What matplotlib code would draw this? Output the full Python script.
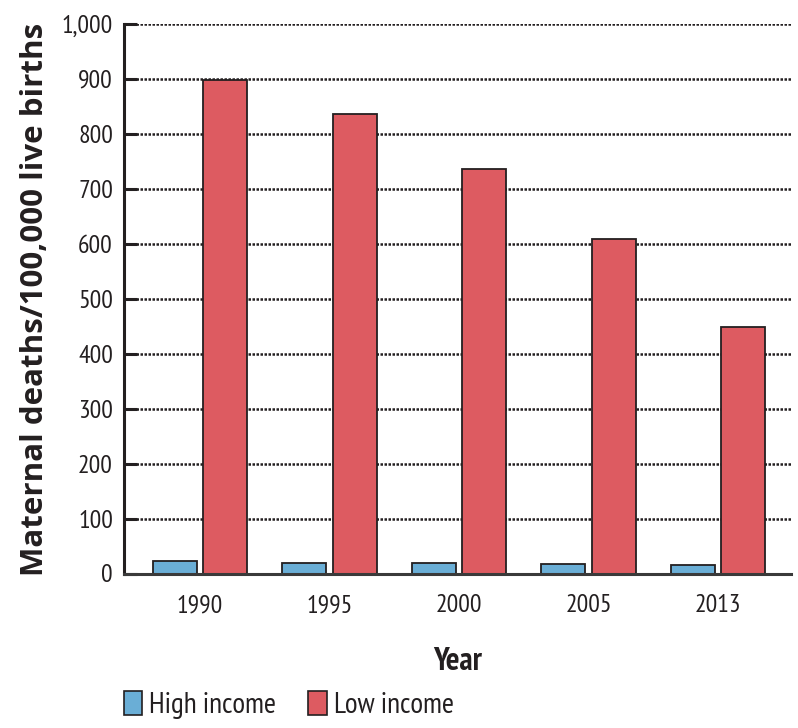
import matplotlib
matplotlib.use("Agg")
import matplotlib.pyplot as plt
from matplotlib.patches import Patch
import numpy as np

years = ["1990", "1995", "2000", "2005", "2013"]
high_income = [23, 20, 18.5, 17, 16]
low_income = [898, 836, 736, 609, 449]
series_labels = ["High income", "Low income"]
yticks = [0, 100, 200, 300, 400, 500, 600, 700, 800, 900, 1000]
ytick_labels = ["0", "100", "200", "300", "400", "500", "600", "700", "800", "900", "1,000"]

narrow = ["PT Sans Narrow", "Liberation Sans", "DejaVu Sans"]
wide_bold = ["Open Sans", "DejaVu Sans"]

blue = "#6aaed6"
red = "#dd5b61"
edge = "#231f20"

W, H = 798, 728
fig = plt.figure(figsize=(W / 100, H / 100), dpi=100)
ax = fig.add_axes([124 / W, (H - 573.5) / H, (791 - 124) / W, (573.5 - 24) / H])

x = np.arange(len(years))
bw = 0.34
off = 0.195
ax.bar(x - off, high_income, bw, color=blue, edgecolor=edge, linewidth=1.3, zorder=3)
ax.bar(x + off, low_income, bw, color=red, edgecolor=edge, linewidth=1.3, zorder=3)

ax.set_xlim(-0.587, 4.564)
ax.set_ylim(0, 1000)
ax.set_yticks(yticks)
ax.set_yticklabels(ytick_labels, family=narrow, fontsize=18.5, color="#231f20")
ax.set_xticks(x)
ax.set_xticklabels(years, family=narrow, fontsize=18.5, color="#231f20")
ax.tick_params(axis="x", length=0, pad=15)
ax.tick_params(axis="y", direction="in", length=9, width=2.2, color="#231f20", pad=8)

ax.yaxis.grid(True, linestyle=(0, (1, 0.6)), linewidth=1.8, color="#231f20", zorder=0)
ax.set_axisbelow(True)
for s in ["top", "right"]:
    ax.spines[s].set_visible(False)
ax.spines["left"].set_linewidth(2.2)
ax.spines["left"].set_color("#231f20")
ax.spines["bottom"].set_linewidth(2.2)
ax.spines["bottom"].set_color("#3a3a3a")
ax.spines["bottom"].set_zorder(4)

ax.set_xlabel("Year", family=narrow, fontweight="bold", fontsize=23, color="#231f20", labelpad=21)
fig.text(35 / W, (H - 299) / H, "Maternal deaths/100,000 live births", rotation=90,
         ha="center", va="center", fontsize=22.5, fontweight="bold", color="#231f20",
         family=wide_bold)

handles = [Patch(facecolor=blue, edgecolor=edge, linewidth=1.2),
           Patch(facecolor=red, edgecolor=edge, linewidth=1.2)]
fig.legend(handles, series_labels, loc="center left", bbox_to_anchor=(124 / W, (H - 705) / H),
           ncol=2, frameon=False, prop={"family": narrow, "size": 21},
           handlelength=0.62, handleheight=0.9, handletextpad=0.25, columnspacing=1.1,
           borderpad=0, borderaxespad=0, labelcolor="#231f20")

fig.savefig("out.png", dpi=100)
